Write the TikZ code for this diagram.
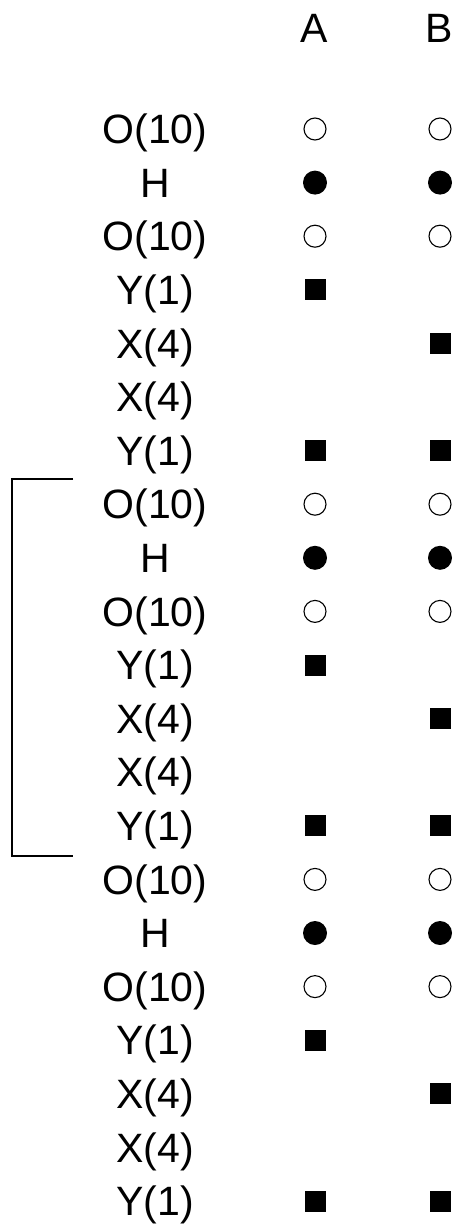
\documentclass[tikz,border=0pt]{standalone}
\usepackage{fontspec}
\setmainfont{Liberation Sans}
\begin{document}
\begin{tikzpicture}[x=1pt,y=-1pt,
  lbl/.style={inner sep=0pt,anchor=base,font=\fontsize{41}{41}\selectfont},
  opendot/.style={circle,draw=black,line width=1.1pt,fill=white,minimum size=22pt,inner sep=0pt},
  fulldot/.style={circle,fill=black,minimum size=24pt,inner sep=0pt},
  sq/.style={rectangle,fill=black,minimum size=21pt,inner sep=0pt},
  brk/.style={draw=black,line width=1.3pt}]
\useasboundingbox (0,0) rectangle (455,1225);
\fill[white] (0,0) rectangle (455,1225);
\node[lbl] (hA) at (314,43) {A};
\node[lbl] (hB) at (439,43) {B};
\foreach \g in {0,1,2}{
  \foreach \r/\t in {0/O(10),1/H,2/O(10),3/Y(1),4/X(4),5/X(4),6/Y(1)}{
    \pgfmathsetmacro{\yy}{129+(7*\g+\r)*53.6}
    \node[lbl] (l\g\r) at (155,\yy+14.7) {\t};
  }
  \foreach \r/\s in {0/opendot,1/fulldot,2/opendot,3/sq,6/sq}{
    \pgfmathsetmacro{\yy}{129+(7*\g+\r)*53.6}
    \node[\s] (a\g\r) at (315,\yy) {};
  }
  \foreach \r/\s in {0/opendot,1/fulldot,2/opendot,4/sq,6/sq}{
    \pgfmathsetmacro{\yy}{129+(7*\g+\r)*53.6}
    \node[\s] (b\g\r) at (440,\yy) {};
  }
}
\coordinate (bt) at (73,479);
\coordinate (bb) at (73,856);
\draw[brk] (bt) -- (12,479) -- (12,856) -- (bb);
\end{tikzpicture}
\end{document}
